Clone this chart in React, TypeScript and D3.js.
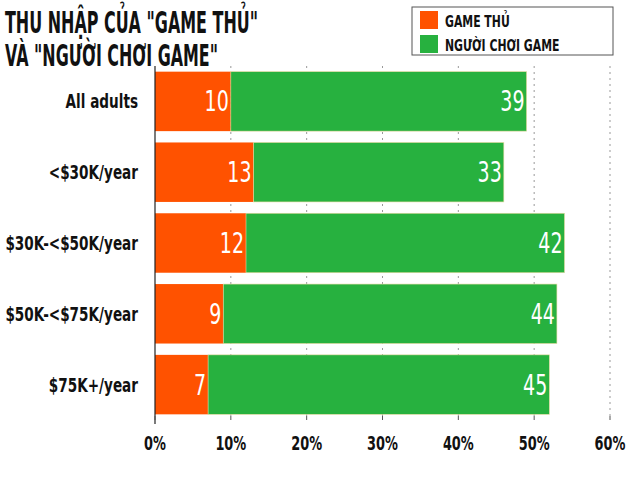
import * as d3 from "d3";

const categories = ["All adults", "<$30K/year", "$30K-<$50K/year", "$50K-<$75K/year", "$75K+/year"];
const gamerValues = [10, 13, 12, 9, 7];
const playerValues = [39, 33, 42, 44, 45];
const xTicks = [0, 10, 20, 30, 40, 50, 60];
const seriesNames = ["GAME THỦ", "NGƯỜI CHƠI GAME"];
const seriesColors = ["#ff5200", "#27b13f"];

const FONT = "'DejaVu Sans', sans-serif";
const SX = 0.68; // condense horizontally

function CText(props: {
  x: number;
  y: number;
  size: number;
  anchor?: string;
  fill?: string;
  weight?: string;
  dy?: string;
  children: any;
}) {
  const { x, y, size, anchor = "start", fill = "#111", weight = "bold", dy = "0", children } = props;
  return (
    <g transform={`translate(${x},${y}) scale(${SX},1)`}>
      <text
        x={0}
        y={0}
        dy={dy}
        textAnchor={anchor}
        fill={fill}
        fontFamily={FONT}
        fontWeight={weight}
        fontSize={size}
      >
        {children}
      </text>
    </g>
  );
}

export default function App() {
  const width = 640;
  const height = 480;
  const margin = { top: 66, right: 30, bottom: 60, left: 155 };

  const x = d3.scaleLinear().domain([0, 60]).range([margin.left, 610]);
  const y = d3
    .scaleBand<string>()
    .domain(categories)
    .range([margin.top, height - margin.bottom])
    .paddingInner(0.16)
    .paddingOuter(0.08);

  const rows = categories.map((c, i) => ({ cat: c, a: gamerValues[i], b: playerValues[i] }));

  return (
    <svg width={width} height={height} style={{ position: "absolute", left: 0, top: 0, background: "#fff" }}>
      {/* grid */}
      {xTicks.slice(1).map((t) => (
        <line
          key={t}
          x1={x(t)}
          x2={x(t)}
          y1={margin.top}
          y2={height - margin.bottom}
          stroke="#999"
          strokeDasharray="2,4"
        />
      ))}
      {/* bars */}
      {rows.map((r) => {
        const cy = y(r.cat)! + y.bandwidth() / 2;
        return (
          <g key={r.cat}>
            <rect x={x(0)} y={y(r.cat)} width={x(r.a) - x(0)} height={y.bandwidth()} fill={seriesColors[0]} />
            <rect
              x={x(r.a)}
              y={y(r.cat)}
              width={x(r.a + r.b) - x(r.a)}
              height={y.bandwidth()}
              fill={seriesColors[1]}
              stroke="#e8d9a0"
              strokeWidth={0.6}
            />
            <CText x={x(r.a) - 2} y={cy} dy="0.36em" anchor="end" fill="#fff" weight="normal" size={28}>
              {r.a}
            </CText>
            <CText x={x(r.a + r.b) - 2} y={cy} dy="0.36em" anchor="end" fill="#fff" weight="normal" size={28}>
              {r.b}
            </CText>
            <CText x={138} y={cy} dy="0.35em" anchor="end" size={20}>
              {r.cat}
            </CText>
          </g>
        );
      })}
      {/* axes */}
      <line x1={x(0)} x2={x(0)} y1={margin.top} y2={height - margin.bottom + 4} stroke="#222" strokeWidth={1.2} />
      {xTicks.map((t) => (
        <g key={t}>
          <line x1={x(t)} x2={x(t)} y1={height - margin.bottom - 4} y2={height - margin.bottom} stroke="#555" />
          <CText x={x(t)} y={450} anchor="middle" size={19}>
            {t}%
          </CText>
        </g>
      ))}
      {/* title */}
      <text
        x={5}
        y={33}
        fontFamily={FONT}
        fontWeight="bold"
        fontSize={31}
        fill="#111"
        textLength={253}
        lengthAdjust="spacingAndGlyphs"
      >
        THU NHẬP CỦA "GAME THỦ"
      </text>
      <text
        x={5}
        y={66}
        fontFamily={FONT}
        fontWeight="bold"
        fontSize={31}
        fill="#111"
        textLength={213}
        lengthAdjust="spacingAndGlyphs"
      >
        VÀ "NGƯỜI CHƠI GAME"
      </text>
      {/* legend */}
      <rect x={412} y={7} width={201} height={48} fill="#fff" stroke="#555" />
      {seriesNames.map((n, i) => (
        <g key={n}>
          <rect x={420} y={11 + i * 24} width={18} height={18} fill={seriesColors[i]} />
          <CText x={445} y={21 + i * 24} dy="0.36em" size={16}>
            {n}
          </CText>
        </g>
      ))}
    </svg>
  );
}
